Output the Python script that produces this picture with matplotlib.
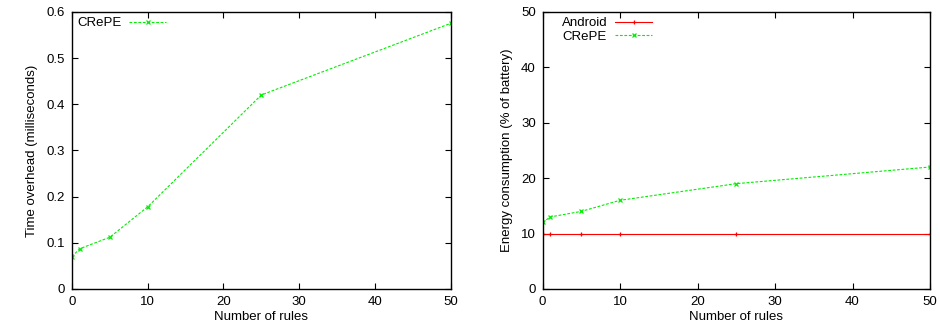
import matplotlib
matplotlib.use("Agg")
import matplotlib.pyplot as plt

rules = [0, 1, 5, 10, 25, 50]
time_crepe = [0.07, 0.087, 0.112, 0.178, 0.42, 0.575]
energy_android = [10, 10, 10, 10, 10, 10]
energy_crepe = [12, 13, 14, 16, 19, 22]

plt.rcParams['font.family'] = ['Liberation Sans', 'DejaVu Sans']
plt.rcParams['font.size'] = 9.5

fig = plt.figure(figsize=(9.4, 3.28), dpi=100)
ax1 = fig.add_axes([0.0766, 0.119, 0.4029, 0.845])
ax2 = fig.add_axes([0.5773, 0.119, 0.4121, 0.845])

green = '#00ee00'
red = '#ff0000'

ax1.plot(rules, time_crepe, color=green, ls=(0, (2.5, 1.5)), lw=0.8, marker='x', ms=3, mew=0.9, label='CRePE')
ax1.set_xlim(0, 50)
ax1.set_ylim(0, 0.6)
ax1.set_yticks([0, 0.1, 0.2, 0.3, 0.4, 0.5, 0.6])
ax1.set_yticklabels(['0', '0.1', '0.2', '0.3', '0.4', '0.5', '0.6'])
ax1.set_xlabel('Number of rules', labelpad=2)
ax1.set_ylabel('Time overhead (milliseconds)', labelpad=6)
ax1.legend(loc='upper left', markerfirst=False, frameon=False, handlelength=2.8,
           borderaxespad=0.1, handletextpad=0.6, borderpad=0.3)

ax2.plot(rules, energy_android, color=red, ls='-', lw=0.8, marker='+', ms=3.5, mew=0.9, label='Android')
ax2.plot(rules, energy_crepe, color=green, ls=(0, (2.5, 1.5)), lw=0.8, marker='x', ms=3, mew=0.9, label='CRePE')
ax2.set_xlim(0, 50)
ax2.set_ylim(0, 50)
ax2.set_xlabel('Number of rules', labelpad=2)
ax2.set_ylabel('Energy consumption (% of battery)', labelpad=6)
ax2.legend(loc='upper left', markerfirst=False, frameon=False, handlelength=2.8,
           borderaxespad=0.1, handletextpad=0.6, labelspacing=0.1, borderpad=0.3,
           bbox_to_anchor=(0.035, 1.0))

for ax in (ax1, ax2):
    ax.set_xticks([0, 10, 20, 30, 40, 50])
    ax.tick_params(direction='in', top=True, right=True, length=4, width=0.8, pad=5)
    for s in ax.spines.values():
        s.set_linewidth(1.0)

fig.savefig('out.png', dpi=100)
